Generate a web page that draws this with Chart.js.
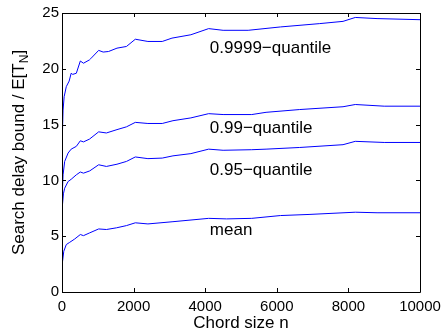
<!DOCTYPE html>
<html>
<head>
<meta charset="utf-8">
<script src="https://cdn.jsdelivr.net/npm/chart.js@4"></script>
<style>
    html, body { margin: 0; padding: 0; background: #ffffff; }
    #wrap { width: 444px; height: 333px; }
</style>
</head>
<body>
<div id="wrap"><canvas id="delayChart" width="444" height="333"></canvas></div>
<script>
// Tick labels
const xTicks = [0, 2000, 4000, 6000, 8000, 10000];
const yTicks = [0, 5, 10, 15, 20, 25];

// Series: chord size n and normalized delay bound
const nQ9999 = [0, 5, 15, 30, 60, 120, 200, 256, 300, 400, 512, 600, 768, 800, 1024, 1150, 1300, 1536, 1800, 2048, 2400, 2800, 3072, 3600, 4096, 4500, 5200, 6100, 7200, 7850, 8192, 8800, 10000];
const vQ9999 = [0, 10, 14, 16.3, 17.5, 18.4, 18.9, 19.6, 19.5, 19.6, 20.7, 20.5, 20.8, 20.9, 21.65, 21.5, 21.55, 21.85, 22.0, 22.65, 22.45, 22.45, 22.75, 23.05, 23.6, 23.45, 23.45, 23.75, 24.05, 24.25, 24.6, 24.5, 24.4];

const nQ99 = [0, 5, 15, 30, 75, 170, 256, 400, 512, 600, 768, 1024, 1240, 1536, 1800, 2048, 2400, 2800, 3100, 3600, 4096, 4500, 5300, 5700, 6640, 7850, 8192, 9000, 10000];
const vQ99 = [0, 6, 9, 10.5, 11.7, 12.45, 12.8, 13.05, 13.55, 13.45, 13.7, 14.35, 14.25, 14.55, 14.8, 15.2, 15.1, 15.1, 15.35, 15.6, 15.98, 15.9, 15.9, 16.1, 16.35, 16.6, 16.8, 16.65, 16.65];

const nQ95 = [0, 5, 15, 40, 75, 170, 256, 400, 512, 600, 774, 1024, 1240, 1536, 1800, 2048, 2400, 2800, 3100, 3600, 4096, 4500, 5300, 5700, 6640, 7850, 8192, 9000, 10000];
const vQ95 = [0, 5, 7.7, 8.8, 9.3, 9.9, 10.1, 10.5, 10.75, 10.65, 10.85, 11.4, 11.25, 11.45, 11.7, 12.1, 11.95, 12.0, 12.2, 12.4, 12.8, 12.7, 12.75, 12.8, 12.95, 13.2, 13.5, 13.4, 13.4];

const nMean = [0, 5, 15, 50, 120, 215, 355, 512, 600, 774, 1024, 1240, 1520, 1800, 2048, 2400, 3100, 4096, 4600, 5300, 6100, 6900, 8192, 8800, 10000];
const vMean = [0, 1.5, 2.6, 3.65, 4.25, 4.45, 4.75, 5.15, 5.05, 5.3, 5.65, 5.6, 5.75, 5.95, 6.2, 6.1, 6.3, 6.6, 6.55, 6.6, 6.85, 6.95, 7.15, 7.1, 7.1];

// In-plot labels (text, x, baseline y)
const labelText = ['0.9999\u2212quantile', '0.99\u2212quantile', '0.95\u2212quantile', 'mean'];
const labelX = [4130, 4130, 4130, 4130];
const labelY = [21.4, 14.27, 10.5, 5.15];

const FONT = '"Liberation Sans", Arial, Helvetica, sans-serif';

function toPoints(xs, ys) {
    return xs.map((x, i) => ({ x: x, y: ys[i] }));
}

function lineSet(xs, ys) {
    return {
        data: toPoints(xs, ys),
        borderColor: '#0000ff',
        borderWidth: 1,
        pointRadius: 0,
        tension: 0,
        fill: false
    };
}

// Draws the boxed axes with inward ticks, the in-plot labels and the axis titles
const matlabAxes = {
    id: 'matlabAxes',
    afterDraw(chart) {
        const ctx = chart.ctx;
        const a = chart.chartArea;
        const xs = chart.scales.x;
        const ys = chart.scales.y;
        const tl = 4;

        ctx.save();
        ctx.strokeStyle = '#000000';
        ctx.lineWidth = 1;
        ctx.beginPath();
        ctx.rect(Math.round(a.left) + 0.5, Math.round(a.top) + 0.5,
                 Math.round(a.right - a.left), Math.round(a.bottom - a.top));
        ctx.stroke();

        ctx.beginPath();
        xTicks.forEach(v => {
            const px = Math.round(xs.getPixelForValue(v)) + 0.5;
            ctx.moveTo(px, a.bottom);
            ctx.lineTo(px, a.bottom - tl);
            ctx.moveTo(px, a.top);
            ctx.lineTo(px, a.top + tl);
        });
        yTicks.forEach(v => {
            const py = Math.round(ys.getPixelForValue(v)) + 0.5;
            ctx.moveTo(a.left, py);
            ctx.lineTo(a.left + tl, py);
            ctx.moveTo(a.right, py);
            ctx.lineTo(a.right - tl, py);
        });
        ctx.stroke();

        // curve labels
        ctx.fillStyle = '#000000';
        ctx.font = '17px ' + FONT;
        ctx.textAlign = 'left';
        ctx.textBaseline = 'alphabetic';
        labelText.forEach((t, i) => {
            ctx.fillText(t, xs.getPixelForValue(labelX[i]), ys.getPixelForValue(labelY[i]));
        });

        // x title
        ctx.font = '17px ' + FONT;
        ctx.textAlign = 'center';
        ctx.fillText('Chord size n', (a.left + a.right) / 2, 328);

        // y title with subscript N
        ctx.translate(24, (a.top + a.bottom) / 2);
        ctx.rotate(-Math.PI / 2);
        const main = 'Search delay bound / E[T';
        const sub = 'N';
        const tail = ']';
        ctx.font = '17px ' + FONT;
        const wMain = ctx.measureText(main).width;
        const wTail = ctx.measureText(tail).width;
        ctx.font = '12px ' + FONT;
        const wSub = ctx.measureText(sub).width;
        let x0 = -(wMain + wSub + wTail) / 2;
        ctx.textAlign = 'left';
        ctx.font = '17px ' + FONT;
        ctx.fillText(main, x0, 0);
        ctx.font = '12px ' + FONT;
        ctx.fillText(sub, x0 + wMain, 4);
        ctx.font = '17px ' + FONT;
        ctx.fillText(tail, x0 + wMain + wSub, 0);
        ctx.restore();
    }
};

document.addEventListener('DOMContentLoaded', function() {
    const ctx = document.getElementById('delayChart');
    new Chart(ctx, {
        type: 'line',
        data: {
            datasets: [
                lineSet(nQ9999, vQ9999),
                lineSet(nQ99, vQ99),
                lineSet(nQ95, vQ95),
                lineSet(nMean, vMean)
            ]
        },
        options: {
            responsive: false,
            animation: false,
            layout: { padding: { left: 0, right: 24, top: 13, bottom: 0 } },
            plugins: {
                legend: { display: false },
                tooltip: { enabled: false }
            },
            scales: {
                x: {
                    type: 'linear',
                    min: 0,
                    max: 10000,
                    afterFit: s => { s.height = 41; s.paddingRight = 0; s.paddingLeft = 0; },
                    afterBuildTicks: s => { s.ticks = xTicks.map(v => ({ value: v })); },
                    grid: { display: false, drawTicks: false },
                    border: { display: false },
                    ticks: {
                        color: '#000000',
                        padding: 6,
                        maxRotation: 0,
                        autoSkip: false,
                        callback: v => String(v),
                        font: { family: FONT, size: 15 }
                    }
                },
                y: {
                    type: 'linear',
                    min: 0,
                    max: 25,
                    afterFit: s => { s.width = 62; s.paddingTop = 0; s.paddingBottom = 0; },
                    afterBuildTicks: s => { s.ticks = yTicks.map(v => ({ value: v })); },
                    grid: { display: false, drawTicks: false },
                    border: { display: false },
                    ticks: {
                        color: '#000000',
                        padding: 3,
                        callback: v => String(v),
                        font: { family: FONT, size: 15 }
                    }
                }
            }
        },
        plugins: [matlabAxes]
    });
});
</script>
</body>
</html>
